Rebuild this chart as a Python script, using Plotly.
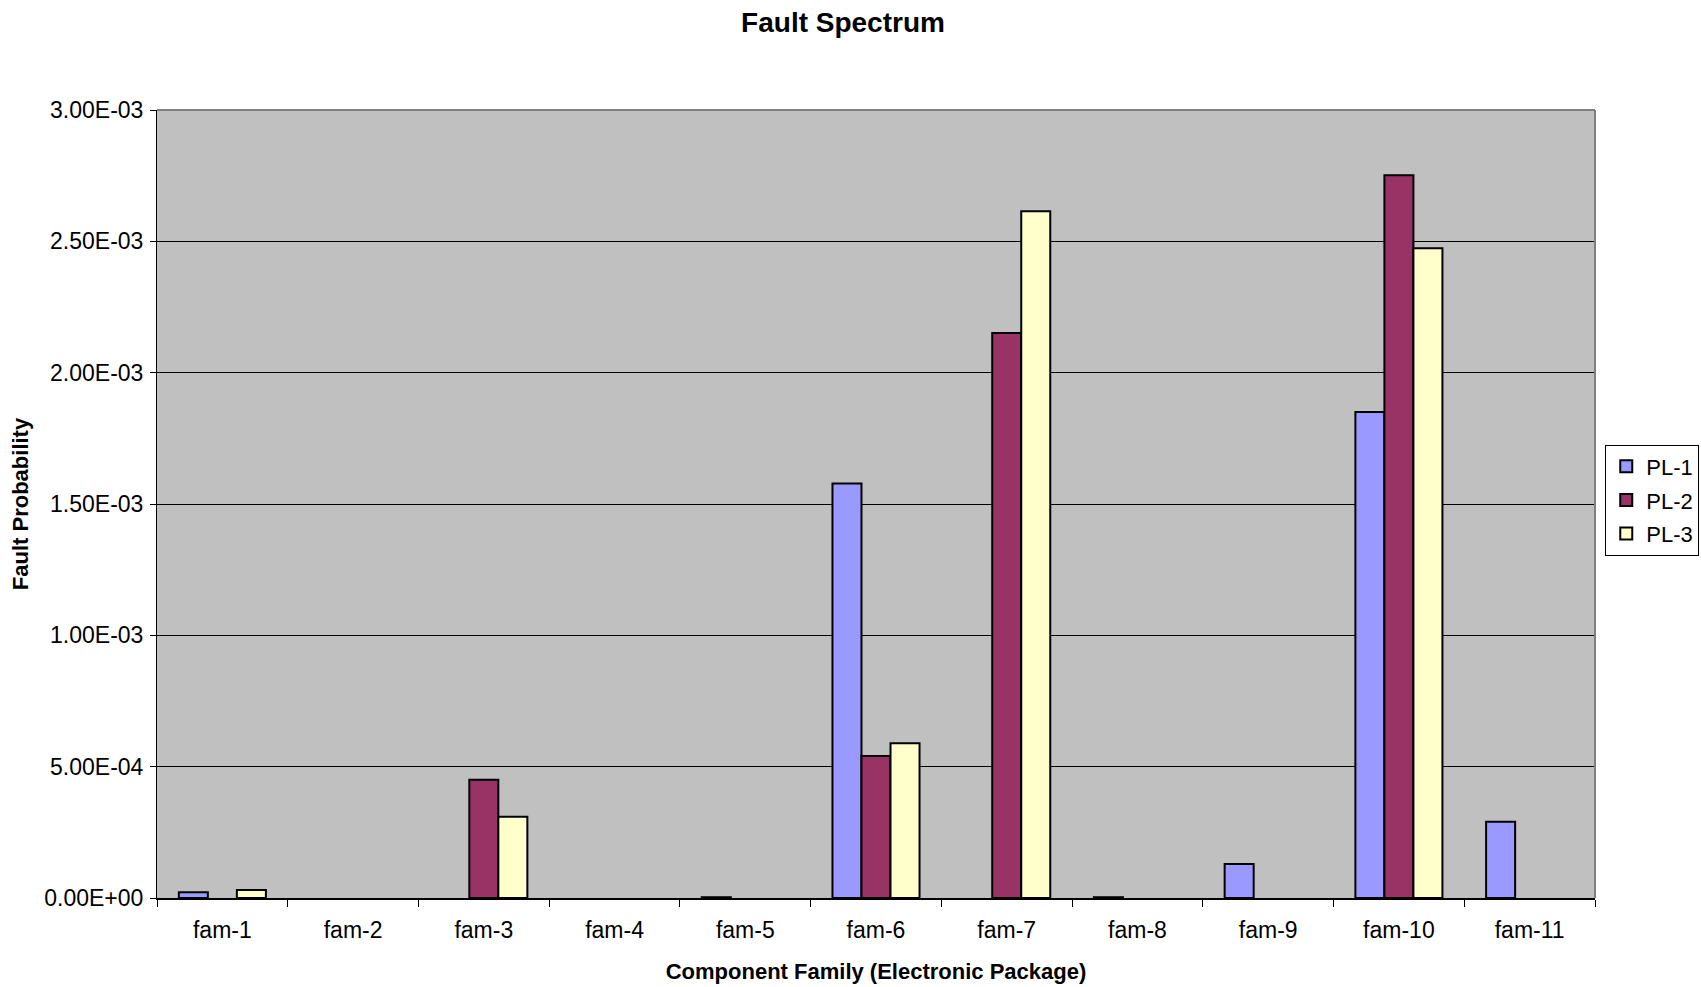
import plotly.graph_objects as go

# Component families on the category axis
families = ["fam-1", "fam-2", "fam-3", "fam-4", "fam-5", "fam-6",
            "fam-7", "fam-8", "fam-9", "fam-10", "fam-11"]

# Fault probability per production line (None = no entry for that family)
pl1 = [2.2e-5, None, None, None, 3e-6, 1.578e-3, None, 3e-6, 1.29e-4, 1.850e-3, 2.90e-4]
pl2 = [None, None, 4.50e-4, None, None, 5.41e-4, 2.151e-3, None, None, 2.752e-3, None]
pl3 = [3.0e-5, None, 3.09e-4, None, None, 5.89e-4, 2.615e-3, None, None, 2.474e-3, None]

series_names = ["PL-1", "PL-2", "PL-3"]
series_colors = ["#9999FF", "#993366", "#FFFFCC"]

# Y axis ticks in Excel-style scientific notation
y_tick_vals = [0, 5e-4, 1e-3, 1.5e-3, 2e-3, 2.5e-3, 3e-3]
y_tick_text = ["0.00E+00", "5.00E-04", "1.00E-03", "1.50E-03",
               "2.00E-03", "2.50E-03", "3.00E-03"]

FONT = "Liberation Sans, Arial, sans-serif"

fig = go.Figure()
for name, vals, color in zip(series_names, [pl1, pl2, pl3], series_colors):
    fig.add_trace(go.Bar(
        x=families, y=vals, name=name, legendgroup=name,
        marker=dict(color=color, line=dict(color="#000000", width=2)),
    ))

fig.update_layout(
    width=1701, height=987,
    margin=dict(l=157, r=106, t=110, b=89, autoexpand=False),
    paper_bgcolor="#FFFFFF",
    plot_bgcolor="#C0C0C0",
    barmode="group", bargap=0.334, bargroupgap=0,
    font=dict(family=FONT, size=22, color="#000000"),
    title=dict(text="<b>Fault Spectrum</b>", xref="container", x=0.4956,
               xanchor="center", y=1 - 22 / 987, yanchor="middle",
               font=dict(family=FONT, size=28, color="#000000")),
    legend=dict(x=1.0725, xanchor="right", y=0.505, yanchor="middle",
                bgcolor="#FFFFFF", bordercolor="#000000", borderwidth=1,
                font=dict(family=FONT, size=22), tracegroupgap=2,
                itemwidth=30),
    showlegend=True,
)

fig.update_xaxes(
    type="category", tickson="boundaries", ticks="outside", ticklen=7,
    tickcolor="#000000", tickwidth=1, ticklabelstandoff=10,
    showline=True, linecolor="#000000", linewidth=2, mirror=False,
    showgrid=False,
    tickfont=dict(family=FONT, size=23),
    title=dict(text="<b>Component Family (Electronic Package)</b>",
               font=dict(family=FONT, size=22), standoff=22),
)

fig.update_yaxes(
    range=[0, 3e-3], tickvals=y_tick_vals, ticktext=y_tick_text,
    ticks="outside", ticklen=6, tickcolor="#000000", tickwidth=1,
    ticklabelstandoff=2,
    showline=True, linecolor="#000000", linewidth=1, mirror=False,
    showgrid=True, gridcolor="#000000", gridwidth=1,
    zeroline=False,
    tickfont=dict(family=FONT, size=23),
    title=dict(text="<b>Fault Probability</b>",
               font=dict(family=FONT, size=22), standoff=9),
)

# Gray frame around the plot area (top and right sides)
fig.add_shape(type="line", xref="paper", yref="paper", x0=0, x1=1, y0=1, y1=1,
              line=dict(color="#808080", width=2), layer="above")
fig.add_shape(type="line", xref="paper", yref="paper", x0=1, x1=1, y0=0, y1=1,
              line=dict(color="#808080", width=2), layer="above")

fig.write_html("out.html")
